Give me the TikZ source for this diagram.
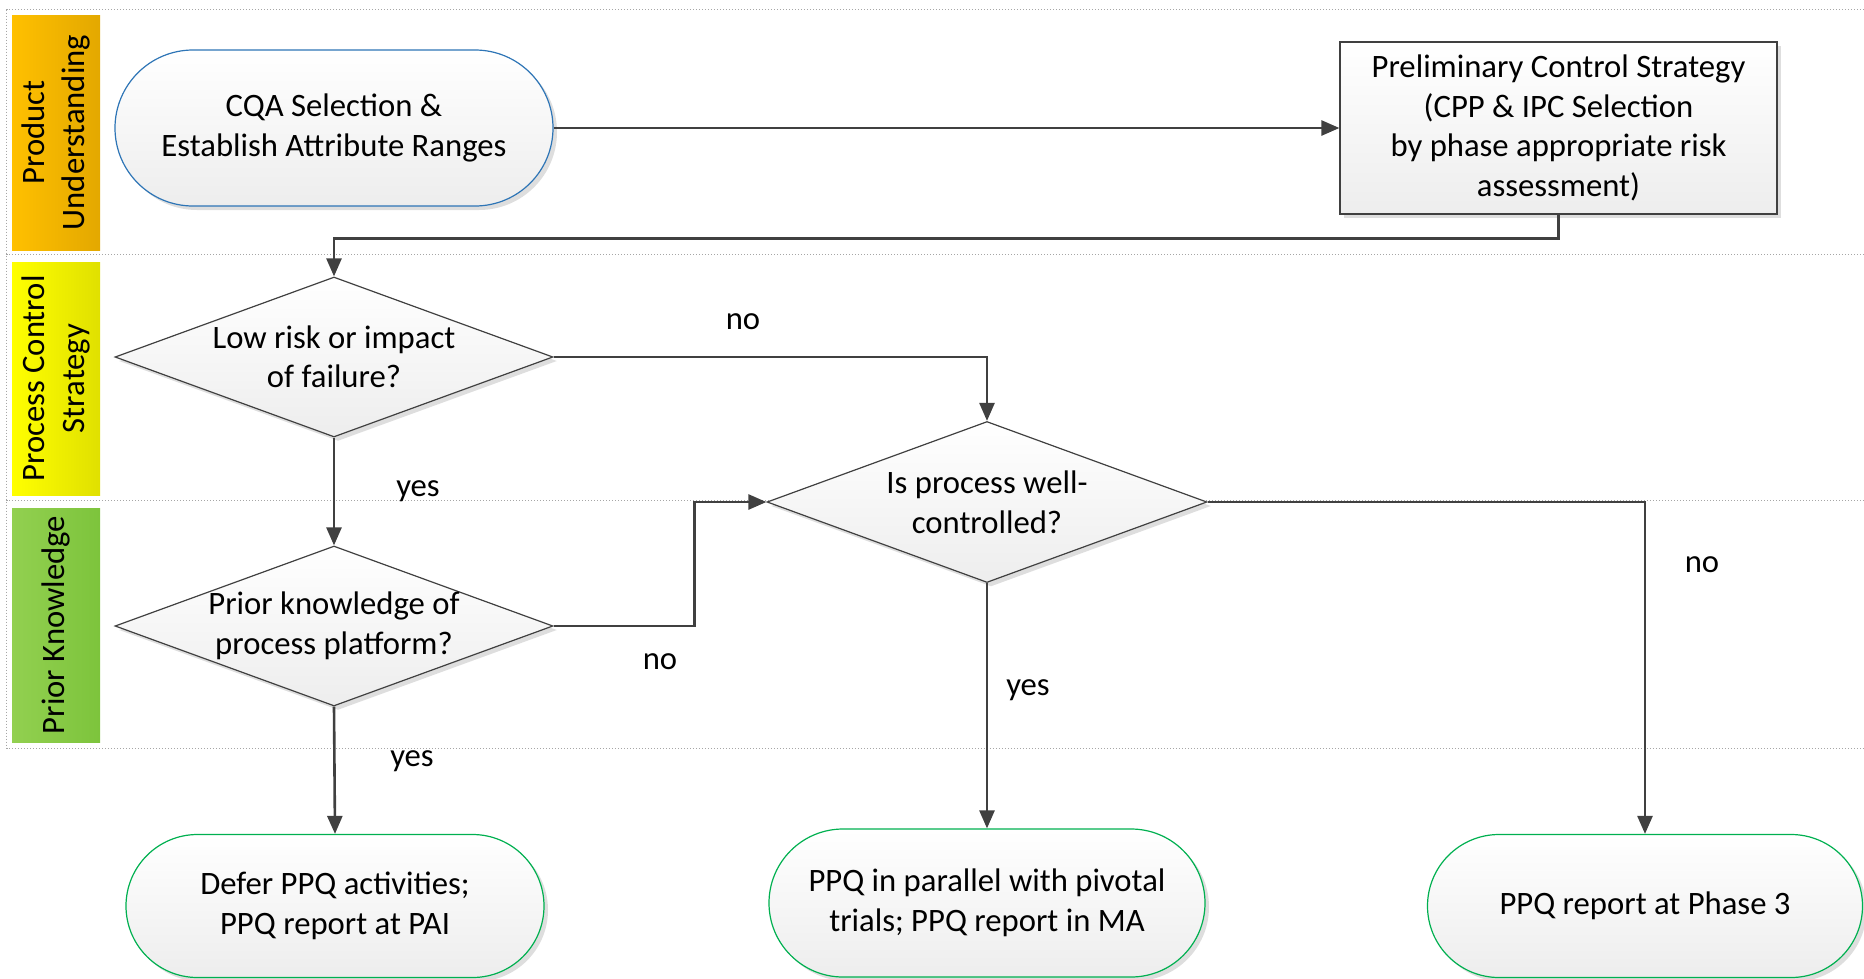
\documentclass[tikz,border=0pt]{standalone}
\usepackage{fontspec}
\setmainfont{Carlito}
\usetikzlibrary{shapes.geometric,shapes.misc,arrows.meta,shadows}
\newdimen\px \px=0.02cm
\definecolor{linegray}{HTML}{404040}
\definecolor{startblue}{HTML}{2E75B6}
\definecolor{endgreen}{HTML}{00B050}
\definecolor{laneA}{HTML}{FFC000}
\definecolor{laneAdark}{HTML}{E3A800}
\definecolor{laneB}{HTML}{FFFF00}
\definecolor{laneBdark}{HTML}{E0E000}
\definecolor{laneC}{HTML}{92D050}
\definecolor{laneCdark}{HTML}{7DC43C}
\begin{document}
\begin{tikzpicture}[x=1\px,y=-1\px,font=\fontsize{18.6}{22.5}\selectfont,
    flow/.style={top color=white,bottom color=black!7,align=center,inner sep=0pt,line width=1.2\px,
        drop shadow={shadow xshift=4\px,shadow yshift=-4\px,fill=black!13,opacity=1}},
    startstop/.style={flow,rounded rectangle,draw=startblue},
    endstop/.style={flow,rounded rectangle,draw=endgreen},
    process/.style={flow,rectangle,draw=linegray},
    decision/.style={flow,diamond,draw=linegray},
    conn/.style={draw=linegray,line width=2.6\px,-{Triangle[length=0.36cm,width=0.3cm]}},
    lanesep/.style={draw=black!35,dash pattern=on 1.5\px off 1.5\px,line width=0.8\px}]
    \useasboundingbox (0,0) rectangle (1864,978);
    % swim lanes
    \foreach \y in {9.5,254,500,748}
        \draw[lanesep] (6,\y) -- (1864,\y);
    \draw[lanesep] (6,9.5) -- (6,748);
    \shade[left color=laneA,right color=laneAdark] (12,15) rectangle (100,250);
    \shade[left color=laneB,right color=laneBdark] (12,262) rectangle (100,495);
    \shade[left color=laneC,right color=laneCdark] (12,508) rectangle (100,742);
    \begin{scope}[every node/.style={rotate=90,align=center,inner sep=0pt}]
        \node (LU) at (56,132.5) {Product\\Understanding};
        \node (LS) at (56,378.5) {Process Control\\Strategy};
        \node (LK) at (56,625) {Prior Knowledge};
    \end{scope}
    % flow chart
    \node[startstop,minimum width=438\px,minimum height=156\px] (CQA) at (334,128) {CQA Selection \&\\Establish Attribute Ranges};
    \node[process,minimum width=437\px,minimum height=172\px] (PCS) at (1558.5,128) {Preliminary Control Strategy\\(CPP \& IPC Selection\\by phase appropriate risk\\assessment)};
    \node[decision,minimum width=438\px,minimum height=160\px,label={[align=center]center:Low risk or impact\\of failure?}] (D1) at (334,357) {};
    \node[decision,minimum width=438\px,minimum height=160\px,label={[align=center]center:Prior knowledge of\\process platform?}] (D2) at (334,626) {};
    \node[decision,minimum width=440\px,minimum height=161\px,label={[align=center]center:Is process well-\\controlled?}] (D3) at (987,502) {};
    \node[endstop,minimum width=418\px,minimum height=143\px] (E1) at (335,906) {Defer PPQ activities;\\PPQ report at PAI};
    \node[endstop,minimum width=436\px,minimum height=148\px] (E2) at (987,903) {PPQ in parallel with pivotal\\trials; PPQ report in MA};
    \node[endstop,minimum width=435\px,minimum height=143\px] (E3) at (1645,906) {PPQ report at Phase 3};
    % answers
    \node (N1) at (743,322) {no};
    \node (Y1) at (418,491) {yes};
    \node (N2) at (660,662) {no};
    \node (Y2) at (412,761) {yes};
    \node (Y3) at (1028,690) {yes};
    \node (N3) at (1702,565) {no};
    \begin{scope}[conn]
        \draw (CQA.east) -- (PCS.west);
        \draw (PCS.south) -- ++(0,24) -| (D1.north);
        \draw (D1.east) -| (D3.north);
        \draw (D1.south) -- (D2.north);
        \draw (D2.east) -- ++(141,0) |- (D3.west);
        \draw (D2.south) -- (E1.north);
        \draw (D3.south) -- (E2.north);
        \draw (D3.east) -| (E3.north);
    \end{scope}
\end{tikzpicture}
\end{document}
